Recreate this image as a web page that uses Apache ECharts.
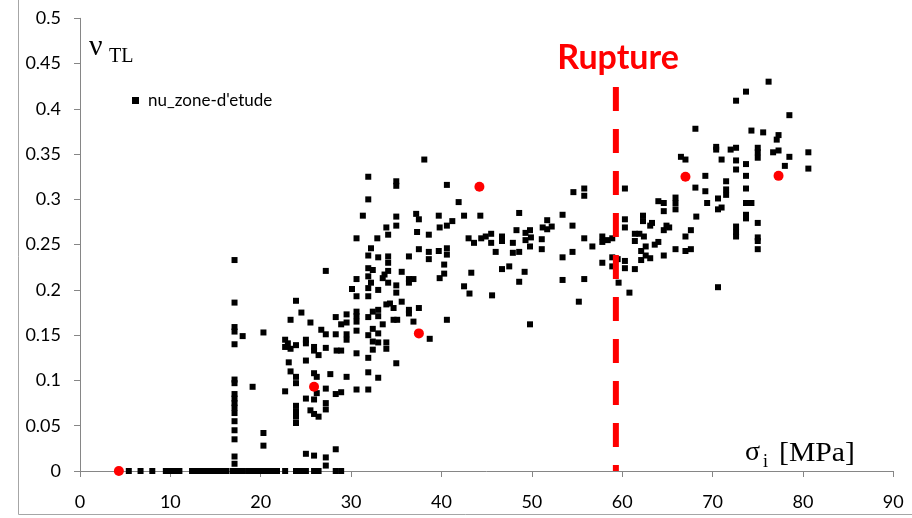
<!DOCTYPE html>
<html>
<head>
<meta charset="utf-8">
<script src="https://cdn.jsdelivr.net/npm/echarts/dist/echarts.min.js"></script>
<style>
  html, body { margin: 0; padding: 0; background: #fff; }
  #chart { width: 912px; height: 518px; }
</style>
</head>
<body>
<div id="chart"></div>
<script>
  // sigma_i values of the points lying on nu = 0
  const sigmaAtZero = [5.4, 6.7, 8.0, 9.5, 9.9, 10.5, 11.0, 12.4, 12.9, 13.5, 14.0, 14.6, 15.1, 15.7,
    16.2, 16.9, 17.1, 17.5, 18.0, 18.6, 19.1, 19.7, 20.2, 20.8, 21.3, 21.8, 22.7, 23.9, 24.4,
    25.0, 25.9, 26.4, 28.3, 28.9];

  // nu values of the vertical column at sigma ~ 17
  const nuColumn17 = [0.233, 0.186, 0.159, 0.154, 0.140, 0.101, 0.097, 0.085, 0.080, 0.075,
    0.070, 0.064, 0.055, 0.045, 0.035, 0.016, 0.008];

  // [sigma_i, nu] pairs, low stress part
  const pointsLow = [
    [18.0, 0.149], [20.3, 0.153], [19.1, 0.093], [20.3, 0.042], [20.3, 0.028],
    [27.2, 0.221], [23.9, 0.188], [24.5, 0.175], [23.3, 0.167], [25.5, 0.164], [28.3, 0.170],
    [28.9, 0.162], [29.5, 0.173], [29.5, 0.164],
    [22.7, 0.145], [23.0, 0.141], [22.7, 0.137], [23.3, 0.135], [23.9, 0.139], [25.0, 0.145],
    [25.0, 0.141], [25.9, 0.137], [25.9, 0.133], [26.4, 0.128], [26.7, 0.156], [27.2, 0.151],
    [27.2, 0.136], [28.3, 0.151], [29.5, 0.151], [29.5, 0.145], [28.4, 0.133], [28.9, 0.133],
    [23.1, 0.120], [23.3, 0.110], [23.9, 0.104], [23.9, 0.097], [25.0, 0.122], [25.9, 0.108],
    [26.2, 0.104], [27.7, 0.107], [29.5, 0.104],
    [22.7, 0.088], [25.0, 0.080], [25.9, 0.079], [26.2, 0.086], [27.2, 0.091], [28.3, 0.085],
    [28.9, 0.087],
    [23.9, 0.072], [23.9, 0.066], [23.9, 0.060], [23.9, 0.053], [25.5, 0.067], [25.9, 0.063],
    [26.4, 0.060], [27.2, 0.075], [27.2, 0.068],
    [25.0, 0.019], [25.9, 0.017], [27.2, 0.015], [27.2, 0.006], [28.3, 0.024],
    [30.6, 0.212], [30.6, 0.193], [30.1, 0.201]
  ];

  // [sigma_i, nu] pairs, 30 - 47 MPa
  const pointsMid = [
    [38.1, 0.344], [31.9, 0.325], [35.0, 0.320], [35.0, 0.315], [40.6, 0.316], [31.9, 0.300],
    [41.9, 0.297], [31.3, 0.282], [35.0, 0.281], [37.2, 0.284], [37.5, 0.278], [39.7, 0.282],
    [42.5, 0.282], [44.3, 0.282], [33.9, 0.269], [35.0, 0.271], [39.8, 0.269], [40.6, 0.271],
    [41.2, 0.276], [37.3, 0.264], [38.6, 0.261], [30.6, 0.257], [32.9, 0.257], [34.1, 0.261],
    [43.0, 0.257], [43.6, 0.252], [44.4, 0.257], [44.9, 0.259], [45.5, 0.262], [45.5, 0.252],
    [46.0, 0.242], [32.2, 0.246], [31.9, 0.238], [33.0, 0.236], [34.1, 0.237], [34.1, 0.230],
    [36.4, 0.237], [37.5, 0.245], [38.6, 0.242], [38.6, 0.234], [39.7, 0.243], [40.6, 0.246],
    [40.6, 0.239], [40.3, 0.228], [40.3, 0.218], [39.8, 0.213], [43.3, 0.219], [31.9, 0.224],
    [32.4, 0.222], [31.9, 0.215], [33.7, 0.217], [34.1, 0.221], [33.5, 0.213], [34.1, 0.208],
    [35.6, 0.220], [36.4, 0.212], [36.9, 0.212], [36.4, 0.208], [32.2, 0.208], [31.9, 0.202],
    [31.9, 0.193], [33.0, 0.200], [35.0, 0.205], [35.0, 0.197], [42.5, 0.204], [43.1, 0.196],
    [45.6, 0.194], [35.6, 0.187], [33.9, 0.184], [34.3, 0.185], [34.7, 0.180], [32.4, 0.176],
    [33.0, 0.178], [33.0, 0.171], [30.6, 0.176], [30.6, 0.171], [30.6, 0.165], [31.9, 0.170],
    [36.4, 0.178], [36.4, 0.174], [37.5, 0.180], [34.7, 0.167], [35.1, 0.167], [36.9, 0.165],
    [40.6, 0.167], [33.5, 0.162], [30.6, 0.155], [32.4, 0.157], [33.0, 0.152], [31.9, 0.150],
    [32.4, 0.143], [33.0, 0.142], [33.9, 0.142], [32.4, 0.134], [33.9, 0.135], [38.7, 0.146],
    [30.6, 0.130], [31.9, 0.125], [35.0, 0.119], [31.9, 0.109], [33.0, 0.103], [30.6, 0.090],
    [31.9, 0.090]
  ];

  // [sigma_i, nu] pairs, 46 - 60 MPa
  const pointsPreRupture = [
    [48.6, 0.285], [48.3, 0.266], [49.3, 0.263], [49.8, 0.266], [49.3, 0.255], [49.9, 0.258],
    [49.8, 0.248], [47.9, 0.252], [47.9, 0.241], [48.6, 0.242], [46.7, 0.259], [46.7, 0.254],
    [47.5, 0.226], [46.7, 0.223], [49.2, 0.220], [48.6, 0.209], [51.7, 0.277], [51.2, 0.269],
    [51.7, 0.267], [52.2, 0.270], [51.1, 0.256], [51.1, 0.245], [53.4, 0.283], [53.4, 0.236],
    [54.5, 0.271], [54.5, 0.242], [54.6, 0.308], [55.8, 0.312], [55.8, 0.304], [55.8, 0.257],
    [56.7, 0.248], [53.4, 0.211], [55.8, 0.212], [55.2, 0.187], [49.8, 0.162],
    [57.8, 0.259], [58.4, 0.255], [58.9, 0.257], [57.8, 0.253], [57.8, 0.230], [58.9, 0.236],
    [59.5, 0.234], [58.9, 0.226], [59.6, 0.208]
  ];

  // [sigma_i, nu] pairs, after rupture
  const pointsPostRupture = [
    [60.3, 0.312], [60.3, 0.278], [60.3, 0.269], [60.3, 0.232], [60.3, 0.224], [60.8, 0.197],
    [73.7, 0.419], [72.6, 0.409], [68.1, 0.378], [74.3, 0.376], [70.4, 0.358], [70.4, 0.355],
    [72.0, 0.355], [72.6, 0.357], [71.0, 0.344], [72.6, 0.343], [72.6, 0.333], [73.7, 0.339],
    [73.7, 0.326], [75.0, 0.357], [75.0, 0.352], [75.0, 0.346], [66.5, 0.347], [67.0, 0.344],
    [69.2, 0.326], [71.5, 0.320], [68.1, 0.313], [69.2, 0.309], [71.5, 0.311], [71.5, 0.305],
    [70.6, 0.301], [70.6, 0.289], [71.0, 0.291], [73.7, 0.312], [69.4, 0.296], [73.7, 0.296],
    [74.3, 0.296], [73.7, 0.283], [73.7, 0.279], [68.2, 0.281], [75.0, 0.274], [72.6, 0.270],
    [72.6, 0.264], [72.6, 0.259], [75.0, 0.258], [75.0, 0.254], [75.0, 0.245], [65.9, 0.302],
    [65.9, 0.296], [65.9, 0.289], [64.0, 0.298], [64.6, 0.296], [64.6, 0.287], [62.3, 0.282],
    [62.3, 0.276], [63.3, 0.274], [63.1, 0.271], [64.6, 0.266], [65.2, 0.269], [64.9, 0.271],
    [67.6, 0.266], [67.0, 0.259], [61.4, 0.262], [61.9, 0.262], [62.4, 0.259], [61.4, 0.254],
    [64.0, 0.253], [63.6, 0.250], [62.6, 0.248], [62.1, 0.243], [62.6, 0.238], [63.1, 0.235],
    [62.1, 0.233], [64.6, 0.238], [65.9, 0.245], [67.0, 0.243], [67.6, 0.245], [61.4, 0.223],
    [70.6, 0.203],
    [76.2, 0.430], [78.5, 0.393], [75.6, 0.374], [77.3, 0.371], [77.1, 0.366], [76.7, 0.352],
    [77.3, 0.354], [78.5, 0.347], [80.6, 0.352], [78.0, 0.337], [80.6, 0.334]
  ];

  // highlighted points (red)
  const redPoints = [[4.3, 0], [25.9, 0.093], [37.5, 0.152], [44.2, 0.314], [67.0, 0.325], [77.3, 0.326]];

  // rupture line: sigma and nu extent
  const ruptureSigma = 59.3;
  const ruptureTop = 0.424;

  let chart = echarts.init(document.getElementById('chart'));

  let blackPoints = []
    .concat(sigmaAtZero.map(s => [s, 0]))
    .concat(nuColumn17.map(v => [17.1, v]))
    .concat(pointsLow, pointsMid, pointsPreRupture, pointsPostRupture);

  let labelFont = { fontFamily: 'Lato', fontSize: 18, color: '#000' };

  let option = {
    animation: false,
    grid: { left: 80, right: 18.7, top: 18.3, bottom: 47 },
    legend: {
      left: 127, top: 87,
      icon: 'rect', itemWidth: 7, itemHeight: 7,
      data: ["nu_zone-d'etude"],
      textStyle: { fontFamily: 'Lato', fontSize: 17, color: '#000', padding: [0, 0, 0, 4] }
    },
    xAxis: {
      type: 'value', min: 0, max: 90, interval: 10,
      splitLine: { show: false },
      axisLine: { onZero: false, lineStyle: { color: '#868686', width: 1 } },
      axisTick: { show: true, length: 6, lineStyle: { color: '#868686' } },
      axisLabel: Object.assign({ margin: 22 }, labelFont)
    },
    yAxis: {
      type: 'value', min: 0, max: 0.5, interval: 0.05,
      splitLine: { show: false },
      axisLine: { show: true, lineStyle: { color: '#868686', width: 1 } },
      axisTick: { show: true, length: 6, lineStyle: { color: '#868686' } },
      axisLabel: Object.assign({ margin: 19 }, labelFont)
    },
    graphic: [
      {
        type: 'rect', silent: true,
        shape: { x: 18.5, y: -10, width: 1000, height: 524.5 },
        style: { fill: 'none', stroke: '#a6a6a6', lineWidth: 1 }
      },
      {
        type: 'text', x: 89, y: 47,
        style: { text: 'ν', font: '30px "Liberation Serif"', fill: '#000', verticalAlign: 'middle' }
      },
      {
        type: 'text', x: 109, y: 57,
        style: { text: 'TL', font: '20px "Liberation Serif"', fill: '#000', verticalAlign: 'middle' }
      },
      {
        type: 'text', x: 745, y: 453,
        style: { text: 'σ', font: '28px "Liberation Serif"', fill: '#000', verticalAlign: 'middle' }
      },
      {
        type: 'text', x: 763, y: 462,
        style: { text: 'i', font: '18px "Liberation Serif"', fill: '#000', verticalAlign: 'middle' }
      },
      {
        type: 'text', x: 779, y: 454, scaleX: 1.1,
        style: { text: '[MPa]', font: '27px "Liberation Serif"', fill: '#000', verticalAlign: 'middle' }
      },
      {
        type: 'text', x: 618, y: 58,
        style: {
          text: 'Rupture', font: 'bold 34px Lato', fill: '#ff0000',
          align: 'center', verticalAlign: 'middle'
        }
      }
    ],
    series: [
      {
        name: "nu_zone-d'etude",
        type: 'scatter',
        symbol: 'rect',
        symbolSize: 6,
        itemStyle: { color: '#000', opacity: 1 },
        data: blackPoints
      },
      {
        name: 'rupture',
        type: 'line',
        showSymbol: false,
        silent: true,
        lineStyle: { color: '#ff0000', width: 6, type: [24, 18] },
        data: [[ruptureSigma, ruptureTop], [ruptureSigma, 0]],
        z: 3
      },
      {
        name: 'red',
        type: 'scatter',
        symbol: 'circle',
        symbolSize: 10,
        itemStyle: { color: '#ff0000', opacity: 1 },
        data: redPoints,
        z: 4
      }
    ]
  };

  chart.setOption(option);
</script>
</body>
</html>
